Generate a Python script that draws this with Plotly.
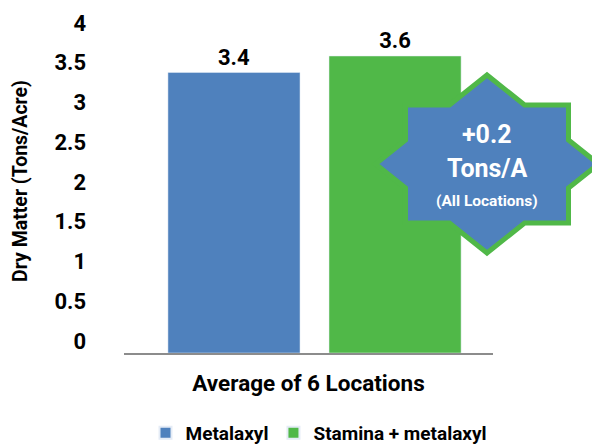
import plotly.graph_objects as go

# ---- data ----
category = ["Average of 6 Locations"]
series_names = ["Metalaxyl", "Stamina + metalaxyl"]
metalaxyl = [3.4]
stamina = [3.6]
y_ticks = [0, 0.5, 1, 1.5, 2, 2.5, 3, 3.5, 4]
y_tick_text = ["0", "0.5", "1", "1.5", "2", "2.5", "3", "3.5", "4"]
badge_lines = ["+0.2", "Tons/A", "(All Locations)"]

BLUE = "#4F81BD"
GREEN = "#50B848"
FONT = "Roboto, Liberation Sans, sans-serif"

OFF = 8  # page body margin
W, H = 600 - OFF, 447 - OFF
# plot area in viewport pixels: x 124..493, y 23..353
L, T = 124 - OFF, 23 - OFF
R, B = W - (493 - OFF), H - (353 - OFF)
pw, ph = W - L - R, H - T - B

def px(x):  # viewport x -> paper
    return (x - OFF - L) / pw

def py(y):  # viewport y -> paper
    return (H - B - (y - OFF)) / ph

def f(size, color="black"):
    return dict(size=size, color=color, family=FONT, weight="bold")

fig = go.Figure()
fig.add_trace(go.Bar(x=category, y=metalaxyl, name=series_names[0],
                     marker_color=BLUE, text=[f"{v:.1f}" for v in metalaxyl],
                     textposition="outside", cliponaxis=False, textfont=f(22)))
fig.add_trace(go.Bar(x=category, y=stamina, name=series_names[1],
                     marker_color=GREEN, text=[f"{v:.1f}" for v in stamina],
                     textposition="outside", cliponaxis=False, textfont=f(22)))
# invisible trace to carry the label axis
fig.add_trace(go.Scatter(x=category * len(y_ticks), y=y_ticks, mode="none",
                         yaxis="y2", showlegend=False, hoverinfo="skip"))

# star badge (union of a square and a diamond)
cx, cy = 487, 164
dx, dy = 111.5, 89
sx, sy = 81.5, 59
a = dx * (1 - sy / dy)
b = dy * (1 - sx / dx)
pts = [(0, -dy), (a, -sy), (sx, -sy), (sx, -b), (dx, 0), (sx, b), (sx, sy), (a, sy),
       (0, dy), (-a, sy), (-sx, sy), (-sx, b), (-dx, 0), (-sx, -b), (-sx, -sy), (-a, -sy)]
path = "M " + " L ".join(f"{px(cx + u):.5f},{py(cy + v):.5f}" for u, v in pts) + " Z"
fig.add_shape(type="path", path=path, xref="paper", yref="paper",
              fillcolor=BLUE, line=dict(color=GREEN, width=5), layer="above")

for text, yy, size in zip(badge_lines, [135, 168, 201], [25, 25, 15.5]):
    fig.add_annotation(x=px(cx), y=py(yy), xref="paper", yref="paper", text=text,
                       showarrow=False, xanchor="center", yanchor="middle",
                       font=f(size, "white"))

fig.add_annotation(x=px(20), y=py(181), xref="paper", yref="paper",
                   text="Dry Matter (Tons/Acre)", textangle=-90, showarrow=False,
                   xanchor="center", yanchor="middle", font=f(19.5))

fig.update_layout(
    width=W, height=H,
    margin=dict(l=L, r=R, t=T, b=B, autoexpand=False),
    paper_bgcolor="white", plot_bgcolor="white",
    barmode="group", bargap=0.127, bargroupgap=0.18,
    font=dict(family=FONT, color="black"),
    xaxis=dict(range=[-0.5163, 0.4837], showticklabels=False, ticks="", automargin=False,
               showline=True, linecolor="#8C8C8C", linewidth=1.5, showgrid=False,
               title=dict(text="Average of 6 Locations", standoff=21, font=f(22.5))),
    yaxis=dict(range=[0, 4], showticklabels=False, showgrid=False, zeroline=False,
               showline=False, ticks="", automargin=False),
    yaxis2=dict(range=[-0.151, 4], overlaying="y", side="left", tickmode="array",
                tickvals=y_ticks, ticktext=y_tick_text, showgrid=False, zeroline=False,
                showline=False, ticks="", ticklabelstandoff=37, automargin=False,
                tickfont=f(22)),
    legend=dict(orientation="h", x=px(319), xanchor="center", y=py(433), yanchor="middle",
                font=f(19), itemsizing="constant", itemwidth=30),
    showlegend=True,
)

fig.write_html("out.html")
